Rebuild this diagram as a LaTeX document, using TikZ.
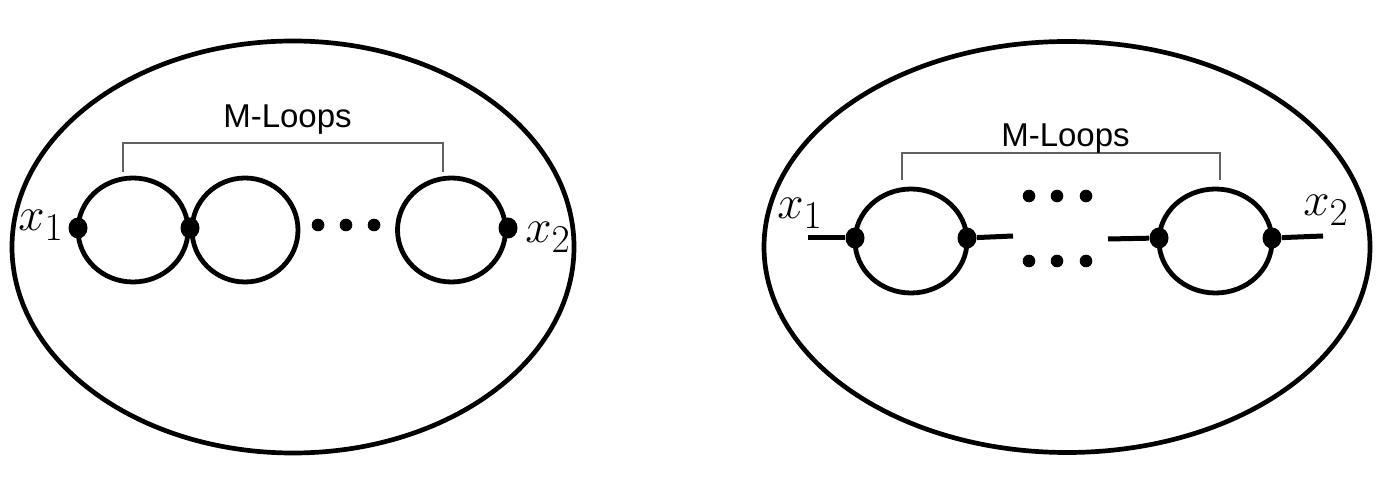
\documentclass[tikz,border=0pt]{standalone}
\usepackage{graphicx}
\usepackage{fontspec}
\setsansfont{Liberation Sans}
\usetikzlibrary{shapes.geometric}
\newcommand{\xlab}[1]{\scalebox{0.95}{\Huge$#1$}}
\begin{document}
\begin{tikzpicture}[x=0.5pt,y=-0.5pt,
  outer/.style={line width=2.35pt},
  loopline/.style={line width=2.4pt},
  legline/.style={line width=2.5pt},
  brk/.style={line width=0.75pt, draw=black!62},
  vdot/.style={ellipse, fill=black, inner sep=0pt, minimum width=9.5pt, minimum height=10.5pt},
  edot/.style={circle, fill=black, inner sep=0pt, minimum size=6.3pt},
  lbl/.style={font=\fontsize{16.5}{20}\sffamily\selectfont, inner sep=0pt, anchor=base},
  xl/.style={inner sep=0pt, anchor=base west}]
\useasboundingbox (0,0) rectangle (1396,480);

% ---------------- left diagram ----------------
\draw[outer] (293,247) ellipse [x radius=140.5pt, y radius=103pt];
\draw[loopline] (133,230) ellipse [x radius=27.5pt, y radius=26pt];
\draw[loopline] (245,230) ellipse [x radius=26.5pt, y radius=26pt];
\draw[loopline] (451.5,230) ellipse [x radius=27pt, y radius=26pt];
\node[vdot] (La) at (78,228) {};
\node[vdot] (Lb) at (190,228) {};
\node[vdot] (Lc) at (508,228) {};
\node[edot] (Ld1) at (318,225) {};
\node[edot] (Ld2) at (346,225) {};
\node[edot] (Ld3) at (374,225) {};
\coordinate (Lb1) at (123,172);
\coordinate (Lb2) at (443,172);
\coordinate (Lbt) at (443,143);
\draw[brk] (Lb1) |- (Lbt) -- (Lb2);
\node[lbl] (Lm) at (287.5,128) {M-Loops};
\node[xl] (Lx1) at (18,231) {\xlab{x_1}};
\node[xl] (Lx2) at (525,243) {\xlab{x_2}};

% ---------------- right diagram ----------------
\draw[outer] (1067,247) ellipse [x radius=151.5pt, y radius=102.75pt];
\draw[loopline] (911,241) ellipse [x radius=28pt, y radius=26pt];
\draw[loopline] (1215.5,241) ellipse [x radius=28.25pt, y radius=26pt];
\node[vdot] (Ra) at (855,238) {};
\node[vdot] (Rb) at (967,238) {};
\node[vdot] (Rc) at (1159,238) {};
\node[vdot] (Rd) at (1272,238) {};
\coordinate (Rl1) at (808,238);
\coordinate (Rl2) at (1013,236);
\coordinate (Rl3) at (1108,239);
\coordinate (Rl4) at (1323,236);
\draw[legline] (Rl1) -- (Ra);
\draw[legline] (Rb) -- (Rl2);
\draw[legline] (Rl3) -- (Rc);
\draw[legline] (Rd) -- (Rl4);
\node[edot] (Rt1) at (1029,196) {};
\node[edot] (Rt2) at (1057,196) {};
\node[edot] (Rt3) at (1086,196) {};
\node[edot] (Rs1) at (1029,261) {};
\node[edot] (Rs2) at (1057,261) {};
\node[edot] (Rs3) at (1086,261) {};
\coordinate (Rb1) at (902,180);
\coordinate (Rb2) at (1220,180);
\coordinate (Rbt) at (1220,153);
\draw[brk] (Rb1) |- (Rbt) -- (Rb2);
\node[lbl] (Rm) at (1065.5,147) {M-Loops};
\node[xl] (Rx1) at (777,219) {\xlab{x_1}};
\node[xl] (Rx2) at (1303,216) {\xlab{x_2}};
\end{tikzpicture}
\end{document}
